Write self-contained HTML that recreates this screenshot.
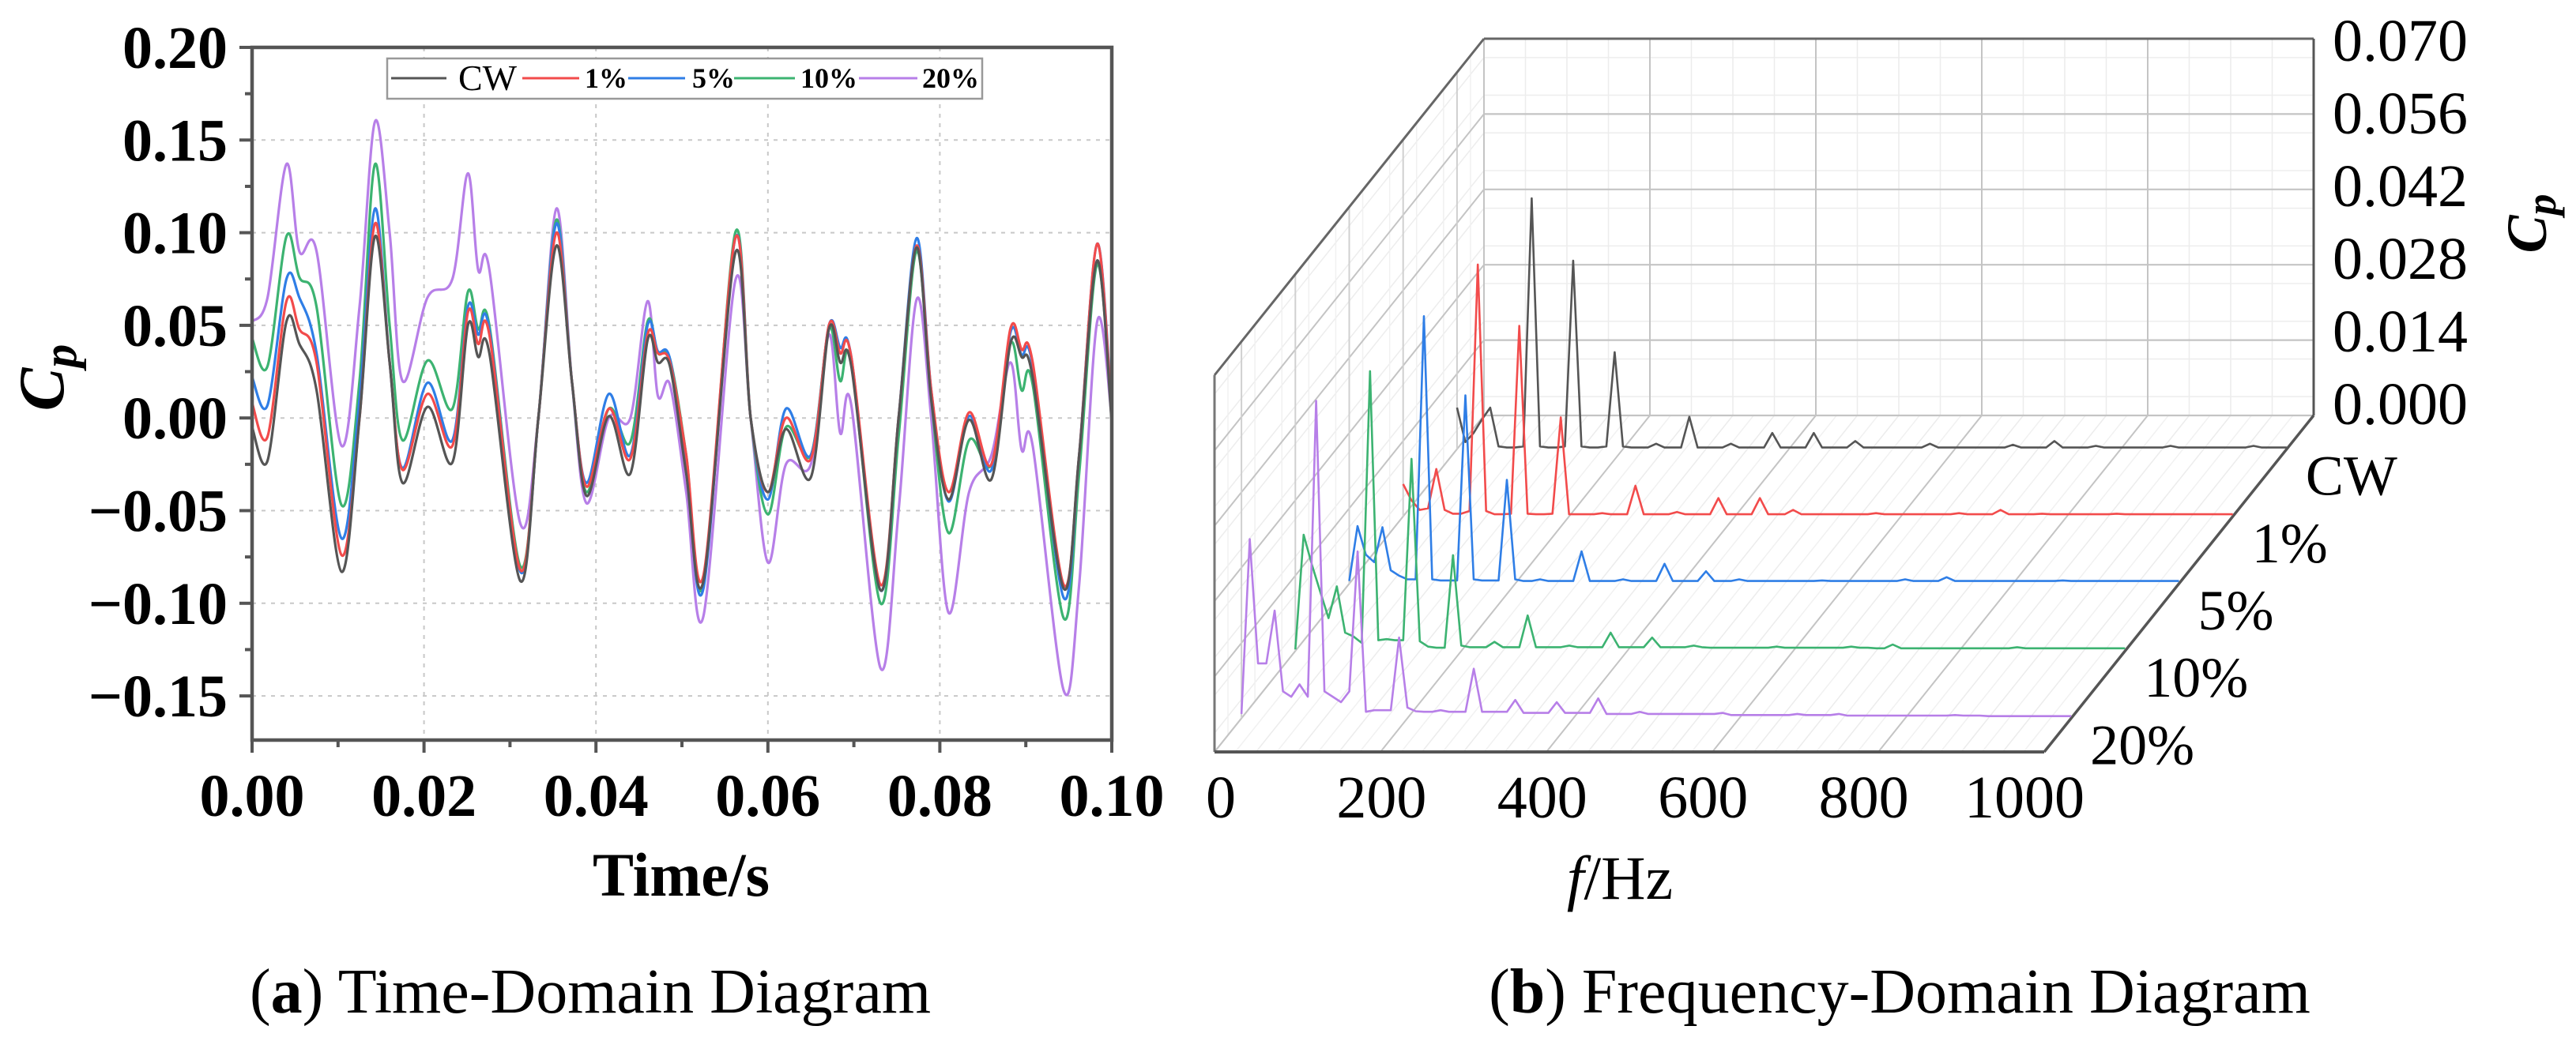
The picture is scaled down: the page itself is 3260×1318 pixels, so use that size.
<!DOCTYPE html>
<html><head><meta charset="utf-8">
<style>
html,body{margin:0;padding:0;background:#fff;}
svg{display:block;}
text{font-family:"Liberation Serif",serif;}
</style></head>
<body>
<svg id="fig" width="3260" height="1318" viewBox="0 0 3260 1318" xmlns="http://www.w3.org/2000/svg">
<g id="left"></g>
<g id="right"></g>
<text x="747" y="1282" font-size="80" text-anchor="middle">(<tspan font-weight="bold">a</tspan>) Time-Domain Diagram</text>
<text x="2404" y="1282" font-size="80" text-anchor="middle">(<tspan font-weight="bold">b</tspan>) Frequency-Domain Diagram</text>
</svg>
<script>
// ===== Time-domain data =====
const times = [0,.0018,.0040,.0055,.0075,.0104,.0125,.0143,.0160,.0175,.0204,.0233,.0251,.0263,.0276,.0312,.0333,.0354,.0372,.0389,.0415,.0440,.0460,.0472,.0486,.0505,.0525,.0562,.0580,.0600,.0621,.0650,.0671,.0684,.0697,.0731,.0752,.0773,.0790,.0810,.0834,.0860,.0882,.0895,.0908,.0944,.0962,.0983,.1000];
const cpCW  = [-.005,-.023,.052,.040,.015,-.083,.000,.098,.030,-.035,.006,-.024,.050,.033,.035,-.088,.000,.093,.020,-.042,.001,-.030,.042,.030,.028,-.030,-.088,.089,.000,-.040,-.006,-.032,.048,.030,.028,-.093,.000,.092,.010,-.044,-.001,-.033,.040,.033,.022,-.092,-.020,.085,-.003];
const cp1   = [.008,-.010,.063,.048,.030,-.074,.000,.105,.030,-.028,.013,-.015,.057,.040,.045,-.082,.000,.100,.020,-.037,.005,-.022,.045,.035,.030,-.020,-.085,.097,.000,-.040,.000,-.022,.050,.035,.033,-.090,.000,.093,.015,-.040,.003,-.025,.048,.037,.030,-.090,-.020,.094,.000];
const cp5   = [.022,.007,.075,.065,.035,-.065,.010,.113,.030,-.027,.019,-.012,.060,.045,.048,-.083,.000,.105,.020,-.035,.013,-.020,.050,.036,.032,-.025,-.092,.097,.000,-.044,.005,-.020,.050,.038,.033,-.093,.000,.097,.015,-.045,.001,-.028,.046,.034,.028,-.097,-.020,.094,.003];
const cp10  = [.043,.028,.098,.076,.060,-.047,.020,.137,.050,-.012,.031,.005,.068,.048,.050,-.080,.000,.107,.020,-.040,.005,-.013,.052,.035,.032,-.020,-.090,.100,.000,-.052,-.005,-.020,.048,.020,.030,-.100,-.010,.090,.010,-.062,-.012,-.025,.040,.015,.018,-.108,-.030,.083,.000];
const cp20  = [.052,.065,.137,.090,.090,-.015,.060,.160,.100,.020,.065,.075,.132,.080,.080,-.057,.000,.113,.020,-.046,.000,.000,.063,.012,.018,-.040,-.107,.074,.000,-.078,-.025,-.025,.045,-.008,.007,-.135,-.050,.064,.000,-.105,-.040,-.020,.030,-.017,-.015,-.147,-.090,.052,.000];
const yTicks = [0.20,0.15,0.10,0.05,0.00,-0.05,-0.10,-0.15];
const yTickLabels = ["0.20","0.15","0.10","0.05","0.00","\u22120.05","\u22120.10","\u22120.15"];
const xTicks = [0,0.02,0.04,0.06,0.08,0.10];
const xTickLabels = ["0.00","0.02","0.04","0.06","0.08","0.10"];
const seriesNames = ["CW","1%","5%","10%","20%"];

// ===== Frequency-domain data (10 Hz bins, 0..1000 Hz) =====
const freqs = [0,10,20,30,40,50,60,70,80,90,100,110,120,130,140,150,160,170,180,190,200,210,220,230,240,250,260,270,280,290,300,310,320,330,340,350,360,370,380,390,400,410,420,430,440,450,460,470,480,490,500,510,520,530,540,550,560,570,580,590,600,610,620,630,640,650,660,670,680,690,700,710,720,730,740,750,760,770,780,790,800,810,820,830,840,850,860,870,880,890,900,910,920,930,940,950,960,970,980,990,1000];
const ampCW = [.0077,.0013,.003,.0055,.0077,.0005,.0003,.0003,.0005,.0466,
.0005,.0003,.0003,.0005,.035,.0005,.0003,.0003,.0005,.018,
.0005,.0003,.0003,.0003,.001,.0003,.0003,.0003,.006,.0003,
.0003,.0003,.0003,.001,.0003,.0003,.0003,.0003,.003,.0003,
.0003,.0003,.0003,.003,.0003,.0003,.0003,.0003,.0015,.0003,
.0003,.0003,.0003,.0003,.0003,.0003,.0003,.001,.0003,.0003,
.0003,.0003,.0003,.0003,.0003,.0003,.0003,.0008,.0003,.0003,
.0003,.0003,.0015,.0003,.0003,.0003,.0003,.0006,.0003,.0003,
.0003,.0003,.0003,.0003,.0003,.0003,.0006,.0003,.0003,.0003,
.0003,.0003,.0003,.0003,.0003,.0003,.0006,.0003,.0003,.0003,.0003];
const amp1 = [.006,.003,.0012,.0015,.0088,.0012,.0005,.0005,.001,.0468,
.001,.0004,.0004,.0005,.0354,.0005,.0004,.0004,.0005,.0184,
.0004,.0004,.0004,.0004,.0006,.0004,.0004,.0004,.0057,.0004,
.0004,.0004,.0004,.0008,.0004,.0004,.0004,.0004,.0034,.0004,
.0004,.0004,.0004,.0034,.0004,.0004,.0004,.0012,.0004,.0004,
.0004,.0004,.0004,.0004,.0004,.0004,.0004,.0006,.0004,.0004,
.0004,.0004,.0004,.0004,.0004,.0004,.0004,.0006,.0004,.0004,
.0004,.0004,.0012,.0004,.0004,.0004,.0004,.0005,.0004,.0004,
.0004,.0004,.0004,.0004,.0004,.0004,.0005,.0004,.0004,.0004,
.0004,.0004,.0004,.0004,.0004,.0004,.0004,.0004,.0004,.0004,.0004];
const amp5 = [.0005,.0107,.0054,.004,.0105,.0025,.0015,.0008,.0008,.0497,
.0008,.0006,.0006,.0006,.035,.0008,.0006,.0006,.0006,.0193,
.0008,.0005,.0005,.0008,.0005,.0005,.0005,.0005,.006,.0005,
.0005,.0005,.0005,.0008,.0005,.0005,.0005,.0005,.0037,.0005,
.0005,.0005,.0005,.0023,.0005,.0005,.0005,.0008,.0005,.0005,
.0005,.0005,.0005,.0005,.0005,.0005,.0005,.0006,.0005,.0005,
.0005,.0005,.0005,.0005,.0005,.0005,.0005,.0008,.0005,.0005,
.0005,.0005,.0012,.0005,.0005,.0005,.0005,.0005,.0005,.0005,
.0005,.0005,.0005,.0005,.0005,.0005,.0006,.0005,.0005,.0005,
.0005,.0005,.0005,.0005,.0005,.0005,.0005,.0005,.0005,.0005,.0005];
const amp10 = [.0003,.0216,.016,.011,.0061,.012,.0034,.0027,.0015,.052,
.002,.0022,.002,.002,.0357,.0018,.0008,.0006,.0006,.0178,
.001,.0007,.0007,.0007,.0017,.0007,.0007,.0007,.0066,.0007,
.0007,.0007,.0007,.001,.0007,.0007,.0007,.0007,.0034,.0007,
.0007,.0007,.0007,.0025,.0007,.0007,.0007,.0007,.001,.0007,
.0006,.0006,.0006,.0006,.0006,.0006,.0006,.0006,.0008,.0006,
.0006,.0006,.0006,.0006,.0006,.0006,.0006,.0008,.0006,.0006,
.0005,.0005,.0012,.0005,.0005,.0005,.0005,.0005,.0005,.0005,
.0005,.0005,.0005,.0005,.0005,.0005,.0005,.0007,.0005,.0005,
.0005,.0005,.0005,.0005,.0005,.0005,.0005,.0005,.0005,.0005,.0005];
const amp20 = [.0008,.0333,.0102,.0102,.020,.005,.004,.0063,.004,.059,
.005,.004,.003,.005,.031,.0012,.0015,.0015,.0015,.015,
.002,.0013,.0012,.0012,.0015,.0012,.0012,.0012,.0092,.0012,
.0012,.0012,.0012,.0034,.001,.001,.001,.001,.003,.001,
.001,.001,.001,.0037,.0008,.0008,.0008,.0008,.0012,.0008,
.0008,.0008,.0008,.0008,.0008,.0008,.0008,.0008,.001,.0006,
.0006,.0006,.0006,.0006,.0006,.0006,.0006,.0008,.0006,.0006,
.0006,.0006,.0008,.0005,.0005,.0005,.0005,.0005,.0005,.0005,
.0005,.0005,.0005,.0005,.0005,.0005,.0006,.0005,.0005,.0005,
.0004,.0004,.0004,.0004,.0004,.0004,.0004,.0004,.0004,.0004,.0004];
const zTicks = [0.000,0.014,0.028,0.042,0.056,0.070];
const zTickLabels = ["0.000","0.014","0.028","0.042","0.056","0.070"];
const fTicks = [0,200,400,600,800,1000];
const fTickLabels = ["0","200","400","600","800","1000"];
const rowDepths = [0.9,0.7,0.5,0.3,0.1];

const colors = ["#555555","#f24b4b","#2f7ee6","#3cb371","#b77fe8"];
const NS="http://www.w3.org/2000/svg";
function mk(tag, attrs, parent){const e=document.createElementNS(NS,tag);for(const k in attrs)e.setAttribute(k,attrs[k]);if(parent)parent.appendChild(e);return e;}

// ===== Left chart =====
const L = document.getElementById('left');
const X0=319,X1=1407,YT=60,YB=937;
const xs = t => X0 + (t/0.10)*(X1-X0);
const ys = v => YT + (0.20-v)*2346;
xTicks.forEach((t,i)=>{ if(i>0&&i<xTicks.length-1){const g=mk('line',{x1:xs(t),x2:xs(t),y1:YT,y2:YB,stroke:'#c8c8c8','stroke-width':2,'stroke-dasharray':'5,7'},L);

}});
yTicks.forEach((v,i)=>{ if(i>0){const g=mk('line',{x1:X0,x2:X1,y1:ys(v),y2:ys(v),stroke:'#c8c8c8','stroke-width':2,'stroke-dasharray':'5,7'},L);

}});
const defs=mk('defs',{},L);
const cp=mk('clipPath',{id:'plotclip'},defs);
mk('rect',{x:X0,y:YT,width:X1-X0,height:YB-YT},cp);
function smooth(pts){let d='M'+pts[0][0]+','+pts[0][1];
for(let i=0;i<pts.length-1;i++){const p0=pts[i-1]||pts[i],p1=pts[i],p2=pts[i+1],p3=pts[i+2]||p2;
const c1x=p1[0]+(p2[0]-p0[0])/6,c1y=p1[1]+(p2[1]-p0[1])/6,c2x=p2[0]-(p3[0]-p1[0])/6,c2y=p2[1]-(p3[1]-p1[1])/6;
d+=' C'+c1x.toFixed(1)+','+c1y.toFixed(1)+' '+c2x.toFixed(1)+','+c2y.toFixed(1)+' '+p2[0].toFixed(1)+','+p2[1].toFixed(1);}return d;}
const tSeries=[cp20,cp10,cp5,cp1,cpCW];
const tNames=['series-20pct','series-10pct','series-5pct','series-1pct','series-cw'];
const tCols=[colors[4],colors[3],colors[2],colors[1],colors[0]];
const sg=mk('g',{'clip-path':'url(#plotclip)'},L);
tSeries.forEach((s,k)=>{const pts=s.map((v,i)=>[xs(times[i]),ys(v)]);
const p=mk('path',{d:smooth(pts),fill:'none',stroke:tCols[k],'stroke-width':3.2,'stroke-linejoin':'round'},sg);

});
const fr=mk('rect',{x:X0,y:YT,width:X1-X0,height:YB-YT,fill:'none',stroke:'#555','stroke-width':4.5},L);


yTicks.forEach((v,i)=>{mk('line',{x1:X0-16,x2:X0,y1:ys(v),y2:ys(v),stroke:'#555','stroke-width':4},L);
if(i<yTicks.length-1) mk('line',{x1:X0-9,x2:X0,y1:ys(v-0.025),y2:ys(v-0.025),stroke:'#555','stroke-width':4},L);
const t=mk('text',{x:288,y:ys(v)+26,'font-size':76,'font-weight':'bold','text-anchor':'end'},L);t.textContent=yTickLabels[i];

});
xTicks.forEach((v,i)=>{mk('line',{x1:xs(v),x2:xs(v),y1:YB,y2:YB+16,stroke:'#555','stroke-width':4},L);
if(i<xTicks.length-1) mk('line',{x1:xs(v+0.01),x2:xs(v+0.01),y1:YB,y2:YB+9,stroke:'#555','stroke-width':4},L);
const t=mk('text',{x:xs(v),y:1033,'font-size':76,'font-weight':'bold','text-anchor':'middle'},L);t.textContent=xTickLabels[i];

});
const xt=mk('text',{x:862,y:1134,'font-size':78,'font-weight':'bold','text-anchor':'middle'},L);xt.textContent='Time/s';


const yt=mk('text',{x:0,y:0,'font-size':82,'font-weight':'bold','font-style':'italic','text-anchor':'middle',transform:'translate(80,478) rotate(-90)'},L);
yt.innerHTML='C<tspan font-size="60" dy="16">p</tspan>';


const lg=mk('g',{},L);


mk('rect',{x:490,y:74,width:753,height:51,fill:'#fff',stroke:'#999','stroke-width':2.5},lg);
const legX=[[495,565,580],[661,733,740],[795,867,876],[929,1006,1013],[1087,1161,1167]];
seriesNames.forEach((n,i)=>{const e=mk('g',{},lg);


mk('line',{x1:legX[i][0],x2:legX[i][1],y1:99,y2:99,stroke:colors[i],'stroke-width':3},e);
const t=mk('text',{x:legX[i][2],y:i===0?114:111,'font-size':i===0?46:36,'font-weight':i===0?'normal':'bold'},e);t.textContent=n;});

// ===== Right (3D) chart =====
const R=document.getElementById('right');
const FX0=1537,FY0=952,FS=1.050,DX=341,DY=426,ZS=477/0.07;
const P=(f,t,z)=>[FX0+FS*f+DX*t, FY0-DY*t-ZS*z];
function ln(a,b,stroke,w,parent,name){const l=mk('line',{x1:a[0],y1:a[1],x2:b[0],y2:b[1],stroke:stroke,'stroke-width':w},parent||R);
if(name){
}return l;}
const grid=mk('g',{},R);


for(let f=50;f<1000;f+=50){ if(f%200){ln(P(f,1,0),P(f,1,0.07),'#ececec',1.5,grid);ln(P(f,0,0),P(f,1,0),'#ececec',1.5,grid);} }
for(let f=25;f<1000;f+=50){ln(P(f,0,0),P(f,1,0),'#f1f1f1',1.5,grid);}
for(let z=0.0035;z<0.07;z+=0.007){ln(P(0,1,z),P(1000,1,z),'#ededed',1.5,grid);ln(P(0,0,z),P(0,1,z),'#ededed',1.5,grid);}
for(let t=0.05;t<1;t+=0.1){ln(P(0,t,0),P(0,t,0.07),'#f1f1f1',1.5,grid);}
fTicks.forEach(f=>{ln(P(f,1,0),P(f,1,0.07),'#c4c4c4',2,grid);ln(P(f,0,0),P(f,1,0),'#c4c4c4',2,grid);});
zTicks.forEach(z=>{ln(P(0,1,z),P(1000,1,z),'#c4c4c4',2.2,grid);ln(P(0,0,z),P(0,1,z),'#c4c4c4',2,grid);});
rowDepths.forEach(t=>{ln(P(0,t,0),P(0,t,0.07),'#d0d0d0',2,grid);});
ln(P(0,1,0.07),P(1000,1,0.07),'#666',3,R,'back-top-edge');
ln(P(1000,1,0),P(1000,1,0.07),'#555',3,R,'back-right-edge');
ln(P(0,0,0.07),P(0,1,0.07),'#666',3,R,'left-top-edge');
ln(P(0,0,0),P(0,0,0.07),'#777',3,R,'left-front-edge');
ln(P(0,0,0),P(1000,0,0),'#555',4,R,'front-bottom-edge');
ln(P(1000,0,0),P(1000,1,0),'#555',3.5,R,'depth-axis');
const fSeries=[ampCW,amp1,amp5,amp10,amp20];
const fNames=['spectrum-cw','spectrum-1pct','spectrum-5pct','spectrum-10pct','spectrum-20pct'];
fSeries.forEach((s,k)=>{const t=rowDepths[k];
const pts=s.map((v,i)=>P(freqs[i],t,v).map(n=>n.toFixed(1)).join(',')).join(' ');
const pl=mk('polyline',{points:pts,fill:'none',stroke:colors[k],'stroke-width':2.6,'stroke-linejoin':'round'},R);


const lab=P(1000,t,0);
const tx=mk('text',{x:lab[0]+24,y:lab[1]+58,'font-size':72},R);tx.textContent=seriesNames[k];

});
zTicks.forEach((z,i)=>{
const t=mk('text',{x:2952,y:50+(zTicks.length-1-i)*92+27,'font-size':76},R);t.textContent=zTickLabels[i];

});
fTicks.forEach((f,i)=>{const t=mk('text',{x:1545+1.017*f,y:1035,'font-size':76,'text-anchor':'middle'},R);t.textContent=fTickLabels[i];

});
const ft=mk('text',{x:2050,y:1138,'font-size':78,'text-anchor':'middle'},R);
ft.innerHTML='<tspan font-style="italic">f</tspan>/Hz';


const zt=mk('text',{x:0,y:0,'font-size':72,'font-weight':'bold','font-style':'italic','text-anchor':'middle',transform:'translate(3222,283) rotate(-90)'},R);
zt.innerHTML='C<tspan font-size="54" dy="12">p</tspan>';


</script>
</body></html>
